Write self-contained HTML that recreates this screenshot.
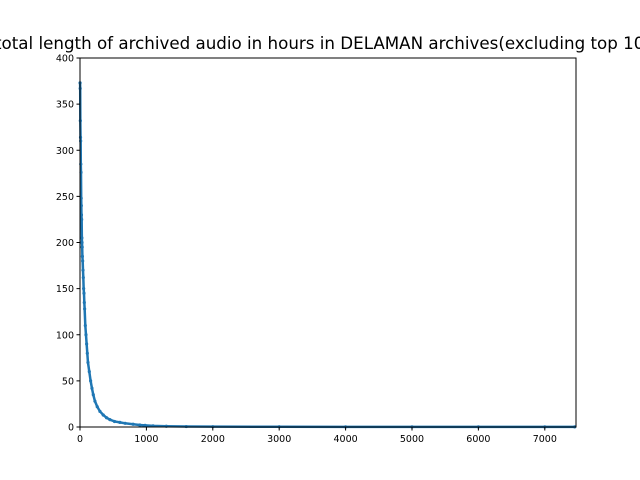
<!DOCTYPE html>
<html><head><meta charset="utf-8"><style>
body{margin:0;background:#fff}
svg{display:block;font-family:"DejaVu Sans","Liberation Sans",sans-serif}
</style></head><body>
<svg id="chart" width="640" height="480" viewBox="0 0 640 480">
<rect width="640" height="480" fill="#fff"/>
<text x="-5" y="49" font-size="16.7" fill="#000">total length of archived audio in hours in DELAMAN archives(excluding top 10)</text>
<g id="plot"></g>
<rect x="80" y="58" width="496" height="369" fill="none" stroke="#000" stroke-width="1"/>
<g id="axes" font-size="9.5" fill="#000"></g>
</svg>
<script>
const ranks  = [1,3,5,8,10,12,15,18,20,22,25,28,30,33,36,40,45,50,55,60,65,70,80,90,100,110,120,140,160,180,200,225,260,300,350,400,450,520,600,680,800,900,980,1100,1300,1600,2000,3000,4000,5000,6000,7000,7450];
const values = [373,367,332,314,310,285,276,248,240,230,225,205,200,195,185,180,170,162,150,145,135,128,110,100,90,80,70,60,50,42,35,28,22,17,13,10,8,6,5,4,3,2.2,1.8,1.2,0.8,0.5,0.35,0.25,0.2,0.15,0.12,0.1,0.1];
const xTicks = [0,1000,2000,3000,4000,5000,6000,7000];
const yTicks = [0,50,100,150,200,250,300,350,400];
const X0=80,X1=576,Y0=427,Y1=58,XMAX=7470,YMAX=400;
const sx=v=>X0+(v/XMAX)*(X1-X0);
const sy=v=>Y0-(v/YMAX)*(Y0-Y1);
const NS="http://www.w3.org/2000/svg";
const plot=document.getElementById('plot');
let d='';
ranks.forEach((r,i)=>{d+=(i?'L':'M')+sx(r).toFixed(2)+','+sy(values[i]).toFixed(2);});
const path=document.createElementNS(NS,'path');
path.setAttribute('d',d);path.setAttribute('fill','none');path.setAttribute('stroke','#1f77b4');path.setAttribute('stroke-width','2.5');


plot.appendChild(path);
ranks.forEach((r,i)=>{
  const c=document.createElementNS(NS,'circle');
  c.setAttribute('cx',sx(r));c.setAttribute('cy',sy(values[i]));c.setAttribute('r','1.6');c.setAttribute('fill','#1f77b4');
  
  
  plot.appendChild(c);
});
const ax=document.getElementById('axes');
xTicks.forEach(t=>{
  const l=document.createElementNS(NS,'line');
  l.setAttribute('x1',sx(t));l.setAttribute('x2',sx(t));l.setAttribute('y1',Y0);l.setAttribute('y2',Y0+3.5);l.setAttribute('stroke','#000');
  
  
  ax.appendChild(l);
  const tx=document.createElementNS(NS,'text');
  tx.setAttribute('x',sx(t));tx.setAttribute('y',Y0+15);tx.setAttribute('text-anchor','middle');tx.textContent=t;
  
  
  ax.appendChild(tx);
});
yTicks.forEach(t=>{
  const l=document.createElementNS(NS,'line');
  l.setAttribute('x1',X0-3.5);l.setAttribute('x2',X0);l.setAttribute('y1',sy(t));l.setAttribute('y2',sy(t));l.setAttribute('stroke','#000');
  
  
  ax.appendChild(l);
  const tx=document.createElementNS(NS,'text');
  tx.setAttribute('x',X0-6);tx.setAttribute('y',sy(t)+3.5);tx.setAttribute('text-anchor','end');tx.textContent=t;
  
  
  ax.appendChild(tx);
});
</script>
</body></html>
